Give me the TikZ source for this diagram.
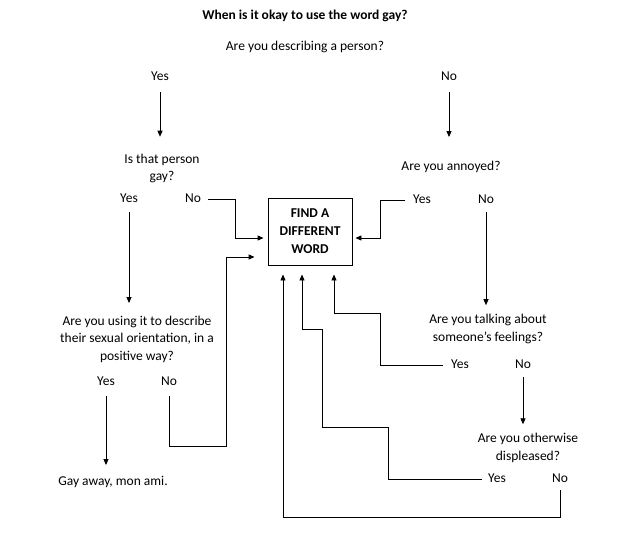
\documentclass[tikz,border=0pt]{standalone}
\usepackage{fontspec}
\setmainfont{Carlito}
\usetikzlibrary{arrows.meta}

\begin{document}
\begin{tikzpicture}[
        x=1pt,y=-1pt,
        every node/.style={font=\fontsize{13.5}{17.5}\selectfont},
        question/.style={inner sep=0pt,align=center},
        answer/.style={inner sep=0pt,text height=9pt,text depth=3pt},
        target/.style={draw,line width=0.9pt,minimum width=84pt,minimum height=67pt,align=center,font=\fontsize{13.5}{18}\selectfont\bfseries},
        flow/.style={line width=0.9pt,-{Triangle[length=6pt,width=5pt]}}
    ]

    \useasboundingbox (0,0) rectangle (625,539);

    \node[question,font=\fontsize{13.5}{17.5}\selectfont\bfseries] (title) at (305,16) {When is it okay to use the word gay?};
    \node[question] (person) at (305,47) {Are you describing a person?};
    \node[answer] (personyes) at (160,77) {Yes};
    \node[answer] (personno) at (449,77) {No};

    \node[question] (isgay) at (162,168.5) {Is that person\\gay?};
    \node[question] (annoyed) at (451,167) {Are you annoyed?};
    \node[answer] (isgayyes) at (129,199) {Yes};
    \node[answer] (isgayno) at (193,199) {No};
    \node[answer] (annoyedyes) at (422,200) {Yes};
    \node[answer] (annoyedno) at (486,200) {No};

    \node[target] (other) at (310,231.5) {FIND A\\DIFFERENT\\WORD};

    \node[question] (positive) at (137,339) {Are you using it to describe\\their sexual orientation, in a\\positive way?};
    \node[answer] (positiveyes) at (106,382) {Yes};
    \node[answer] (positiveno) at (169,382) {No};
    \node[question] (ok) at (113,482) {Gay away, mon ami.};

    \node[question] (feelings) at (488,329) {Are you talking about\\someone's feelings?};
    \node[answer] (feelingsyes) at (460,365) {Yes};
    \node[answer] (feelingsno) at (523,365) {No};
    \node[question] (displeased) at (528,448) {Are you otherwise\\displeased?};
    \node[answer] (displeasedyes) at (497,479) {Yes};
    \node[answer] (displeasedno) at (560,479) {No};

    \draw[flow] ([yshift=-9pt]personyes.south) -- ([yshift=17pt]personyes.south |- isgay.north);
    \draw[flow] ([yshift=-9pt]personno.south) -- ([yshift=24pt]personno.south |- annoyed.north);

    \draw[flow] ([xshift=7pt]isgayno.east) -| ([xshift=-32pt,yshift=-6.5pt]other.west) -- ([xshift=-4pt,yshift=-6.5pt]other.west);
    \draw[flow] ([xshift=-7.5pt]annoyedyes.west) -| ([xshift=28pt,yshift=-6.5pt]other.east) -- ([xshift=3pt,yshift=-6.5pt]other.east);

    \draw[flow] ([yshift=-7pt]isgayyes.south) -- ([yshift=12.5pt]isgayyes.south |- positive.north);
    \draw[flow] ([yshift=-8pt]positiveyes.south) -- ([yshift=11pt]positiveyes.south |- ok.north);
    \draw[flow] ([yshift=-8pt]positiveno.south) -- ++(0,50) -| ([xshift=-41pt,yshift=-25.5pt]other.west) -- ([xshift=-13pt,yshift=-25.5pt]other.west);

    \draw[flow] ([yshift=-6pt]annoyedno.south) -- ([yshift=9pt]annoyedno.south |- feelings.north);
    \draw[flow] ([xshift=-8pt]feelingsyes.west) -- ++(-63,0) |- ([xshift=24pt,yshift=-48pt]other.south) -- ([xshift=24pt,yshift=-9pt]other.south);
    \draw[flow] ([yshift=-6pt]feelingsno.south) -- ([yshift=9pt]feelingsno.south |- displeased.north);
    \draw[flow] ([xshift=-6pt]displeasedyes.west) -- ++(-94,0) -- ++(0,-52) -- ++(-66,0) -- ++(0,-98) -| ([xshift=-8pt,yshift=-9pt]other.south);
    \draw[flow] ([yshift=-5pt]displeasedno.south) -- ++(0,27) -| ([xshift=-27pt,yshift=-9pt]other.south);

    \end{tikzpicture}
\end{document}
